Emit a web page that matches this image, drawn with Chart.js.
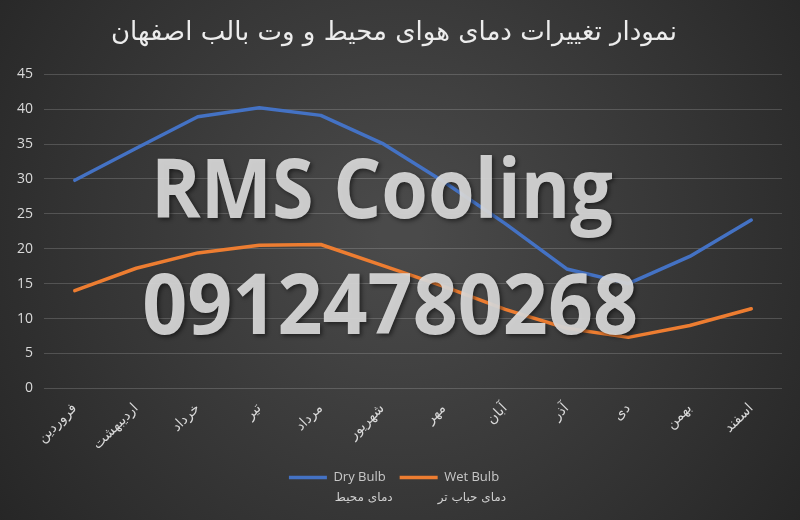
<!DOCTYPE html>
<html>
<head>
<meta charset="utf-8">
<script src="https://cdn.jsdelivr.net/npm/chart.js@4.4.0/dist/chart.umd.min.js"></script>
<style>
  html, body { margin: 0; padding: 0; background: #2b2b2b; }
  #wrap { width: 800px; height: 520px; position: relative; }
</style>
</head>
<body>
<div id="wrap"><canvas id="chart"></canvas></div>
<script>
var months = ['فروردین', 'اردیبهشت', 'خرداد', 'تیر', 'مرداد', 'شهریور', 'مهر', 'آبان', 'آذر', 'دی', 'بهمن', 'اسفند'];

var dryBulb = [29.8, 34.4, 38.9, 40.2, 39.1, 35.1, 29.6, 23.6, 17.1, 15.0, 18.9, 24.1];
var wetBulb = [14.0, 17.2, 19.4, 20.5, 20.6, 17.6, 14.6, 11.3, 8.6, 7.3, 9.0, 11.4];

var seriesNames = ['Dry Bulb', 'Wet Bulb'];
var seriesNamesFa = ['دمای محیط', 'دمای حباب تر'];

var titleText = 'نمودار تغییرات دمای هوای محیط و وت بالب اصفهان';
var watermark = ['RMS Cooling', '09124780268'];

// dark radial background like the office chart style
const bgPlugin = {
  id: 'bg',
  beforeDraw(chart) {
    const ctx = chart.ctx;
    const w = chart.width, h = chart.height;
    const g = ctx.createRadialGradient(w * 0.5, h * 0.45, 20, w * 0.5, h * 0.45, w * 0.62);
    g.addColorStop(0, '#4a4a4a');
    g.addColorStop(1, '#262626');
    ctx.save();
    ctx.fillStyle = g;
    ctx.fillRect(0, 0, w, h);
    ctx.restore();
  },
};

// big watermark text + persian second line under legend items
const overlayPlugin = {
  id: 'overlay',
  afterDraw(chart) {
    const ctx = chart.ctx;
    const a = chart.chartArea;
    ctx.save();
    ctx.textBaseline = 'alphabetic';
    ctx.textAlign = 'center';
    ctx.shadowColor = 'rgba(0,0,0,0.55)';
    ctx.shadowBlur = 4;
    ctx.shadowOffsetX = 2;
    ctx.shadowOffsetY = 2;
    ctx.fillStyle = 'rgba(222,222,222,0.9)';
    ctx.font = 'bold 83px "Open Sans"';
    ctx.fillText(watermark[0], a.left + (a.right - a.left) * 0.458, a.top + 144, 462);
    ctx.font = 'bold 85px "Open Sans"';
    ctx.fillText(watermark[1], a.left + (a.right - a.left) * 0.469, a.top + 260, 496);
    ctx.restore();

    const lg = chart.legend;
    if (!lg || !lg.legendHitBoxes) return;
    ctx.save();
    ctx.fillStyle = '#d0d0d0';
    ctx.font = '12px "DejaVu Sans"';
    ctx.textAlign = 'right';
    ctx.textBaseline = 'middle';
    lg.legendHitBoxes.forEach(function (box, i) {
      ctx.fillText(seriesNamesFa[i], box.left + box.width + 7, box.top + box.height + 14);
    });
    ctx.restore();
  },
};

const data = {
  labels: months,
  datasets: [
    {
      label: seriesNames[0],
      data: dryBulb,
      borderColor: '#4472C4',
      backgroundColor: '#4472C4',
      borderWidth: 3.5,
      borderCapStyle: 'round',
      borderJoinStyle: 'round',
      pointRadius: 0,
      fill: false,
    },
    {
      label: seriesNames[1],
      data: wetBulb,
      borderColor: '#ED7D31',
      backgroundColor: '#ED7D31',
      borderWidth: 3.5,
      borderCapStyle: 'round',
      borderJoinStyle: 'round',
      pointRadius: 0,
      fill: false,
    },
  ],
};

const config = {
  type: 'line',
  data: data,
  options: {
    responsive: true,
    maintainAspectRatio: false,
    animation: false,
    devicePixelRatio: 1,
    layout: {
      padding: { left: 6, right: 18, top: 0, bottom: 26 },
    },
    plugins: {
      title: {
        display: true,
        text: titleText,
        color: '#ececec',
        font: { family: '"DejaVu Sans"', size: 26, weight: 'normal' },
        padding: { top: 18, bottom: 25 },
      },
      legend: {
        position: 'bottom',
        labels: {
          color: '#c8c8c8',
          font: { family: '"Open Sans"', size: 13 },
          usePointStyle: true,
          pointStyle: 'line',
          pointStyleWidth: 38,
          padding: 14,
        },
      },
      tooltip: { enabled: false },
    },
    scales: {
      x: {
        offset: true,
        grid: { display: false },
        border: { display: false },
        ticks: {
          color: '#d9d9d9',
          font: { family: '"DejaVu Sans"', size: 14 },
          minRotation: 45,
          maxRotation: 45,
          autoSkip: false,
          padding: 4,
        },
      },
      y: {
        min: 0,
        max: 45,
        grid: { color: 'rgba(255,255,255,0.17)', drawTicks: false, lineWidth: 1 },
        border: { display: false },
        ticks: {
          stepSize: 5,
          color: '#d9d9d9',
          font: { family: '"Open Sans"', size: 14 },
          padding: 11,
        },
      },
    },
  },
  plugins: [bgPlugin, overlayPlugin],
};

var myChart = new Chart(document.getElementById('chart'), config);
</script>
</body>
</html>
